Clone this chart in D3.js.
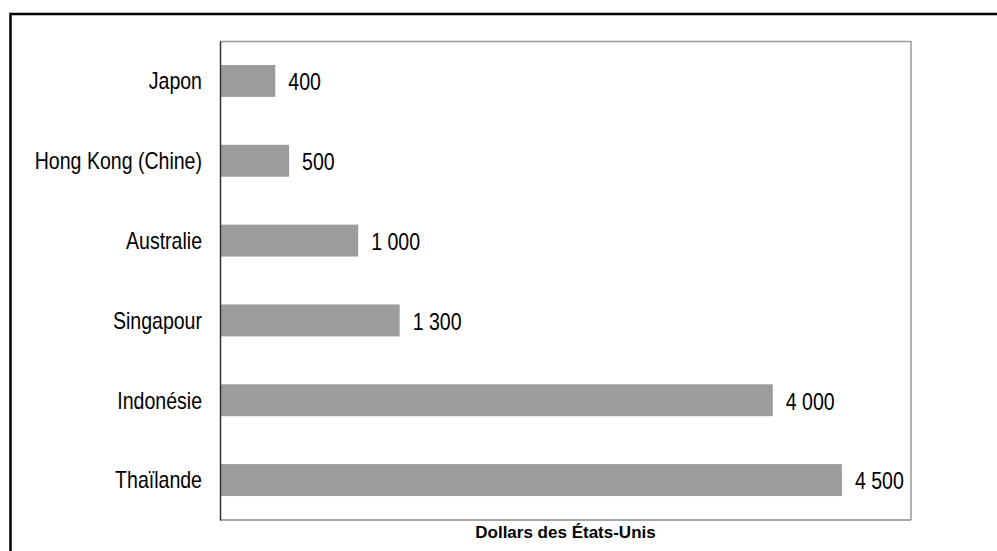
<!DOCTYPE html>
<html>
<head>
<meta charset="utf-8">
<script src="https://cdn.jsdelivr.net/npm/d3@7/dist/d3.min.js"></script>
<style>
  body { margin: 0; background: #fff; }
  svg text { font-family: "Liberation Sans", Arial, sans-serif; fill: #000; }
</style>
</head>
<body>
<div id="chart"></div>
<script>
// data
var categories = ["Japon", "Hong Kong (Chine)", "Australie", "Singapour", "Indonésie", "Thaïlande"];
var values = [400, 500, 1000, 1300, 4000, 4500];
var valueLabels = ["400", "500", "1 000", "1 300", "4 000", "4 500"];
var axisTitle = "Dollars des États-Unis";

var W = 997, H = 551;
var margin = {top: 41, right: 86, bottom: 31, left: 220},
    width = W - margin.left - margin.right,
    height = H - margin.top - margin.bottom;
var squeeze = 0.85; // the labels in the picture are narrow

var svg = d3.select("#chart").append("svg")
    .attr("width", W)
    .attr("height", H);

// outer frame (only top and left show inside the window)
svg.append("rect")
    .attr("x", 10.5).attr("y", 14)
    .attr("width", W + 20).attr("height", H + 20)
    .attr("fill", "none")
    .attr("stroke", "#000")
    .attr("stroke-width", 2.5);

var g = svg.append("g")
    .attr("transform", "translate(" + margin.left + "," + margin.top + ")");

var x = d3.scaleLinear().domain([0, 5000]).range([0, width]);
var y = d3.scaleBand().domain(categories).range([0, height])
    .paddingInner(0.6).paddingOuter(0.3);

// plot box
g.append("line").attr("x1", 0).attr("x2", width).attr("y1", 0.5).attr("y2", 0.5)
    .attr("stroke", "#999").attr("stroke-width", 1.5);
g.append("line").attr("x1", width).attr("x2", width).attr("y1", 0).attr("y2", height)
    .attr("stroke", "#999").attr("stroke-width", 1.5);
g.append("line").attr("x1", 0).attr("x2", width).attr("y1", height).attr("y2", height)
    .attr("stroke", "#888").attr("stroke-width", 1.5);

g.selectAll("rect.bar")
    .data(values)
    .enter().append("rect")
    .attr("class", "bar")
    .attr("x", 0)
    .attr("y", function(d, i) { return y(categories[i]); })
    .attr("width", function(d) { return x(d); })
    .attr("height", y.bandwidth())
    .attr("fill", "#9c9c9c");

g.selectAll("text.val")
    .data(values)
    .enter().append("text")
    .attr("class", "val")
    .attr("transform", function(d, i) {
        return "translate(" + (x(d) + 13) + "," + (y(categories[i]) + y.bandwidth() / 2 + 1) + ") scale(" + squeeze + ",1)";
    })
    .attr("dy", "0.36em")
    .style("font-size", "23px")
    .text(function(d, i) { return valueLabels[i]; });

var yAxis = d3.axisLeft(y).tickSize(0).tickPadding(18);
var ya = g.append("g").call(yAxis);
ya.select(".domain").attr("stroke", "#333").attr("stroke-width", 1.5);
ya.selectAll(".tick text")
    .attr("x", 0)
    .attr("transform", "translate(-18,1) scale(" + squeeze + ",1)")
    .style("font-size", "23px")
    .style("font-family", "Liberation Sans, Arial, sans-serif")
    .attr("fill", "#000");

g.append("text")
    .attr("x", width / 2)
    .attr("y", height + 18)
    .attr("text-anchor", "middle")
    .style("font-size", "17px")
    .style("font-weight", "bold")
    .text(axisTitle);
</script>
</body>
</html>
